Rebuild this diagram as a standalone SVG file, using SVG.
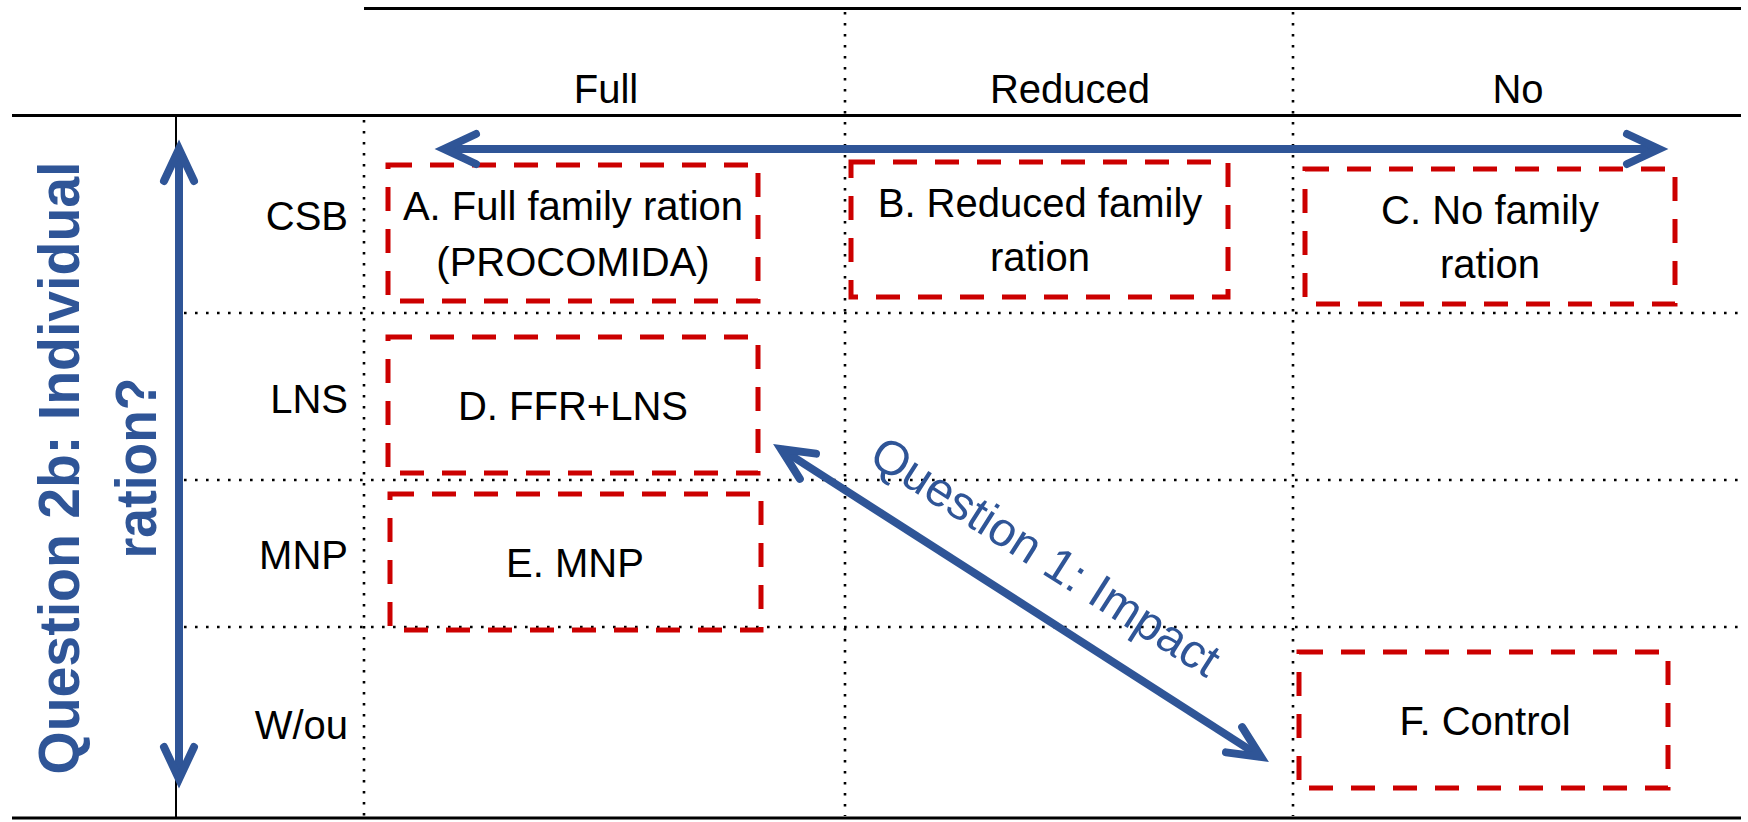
<svg xmlns="http://www.w3.org/2000/svg" width="1748" height="822" viewBox="0 0 1748 822">
<defs>
<style>
.lbl{font-family:"Liberation Sans",Arial,sans-serif;font-size:40px;fill:#000}
.mid{text-anchor:middle}
.end{text-anchor:end}
.box{fill:none;stroke:#CC0000;stroke-width:5;stroke-dasharray:24 18}
.rule{stroke:#000;stroke-width:3}
.dot{stroke:#000;stroke-width:2.6;stroke-dasharray:2.6 8.4}
.arrow{stroke:#2F5597;stroke-width:8;fill:none;marker-start:url(#ah);marker-end:url(#ah)}
.blue{font-family:"Liberation Sans",Arial,sans-serif;fill:#2F5597}
</style>
<marker id="ah" markerUnits="userSpaceOnUse" markerWidth="80" markerHeight="80" refX="0" refY="0" orient="auto-start-reverse" overflow="visible">
<path d="M-32,-15 L0,0 L-32,15" fill="none" stroke="#2F5597" stroke-width="8" stroke-linecap="round" stroke-linejoin="miter"/>
</marker>
</defs>
<rect width="1748" height="822" fill="#fff"/>

<g id="grid">
<line class="rule" x1="364" y1="8.5" x2="1741" y2="8.5"/>
<line class="rule" x1="12" y1="115.5" x2="1741" y2="115.5"/>
<line class="rule" x1="12" y1="818" x2="1741" y2="818"/>
<line x1="176" y1="115.5" x2="176" y2="818" stroke="#000" stroke-width="2"/>
<line class="dot" x1="364" y1="120" x2="364" y2="816"/>
<line class="dot" x1="845" y1="12" x2="845" y2="816"/>
<line class="dot" x1="1293" y1="12" x2="1293" y2="816"/>
<line class="dot" x1="184" y1="313" x2="1741" y2="313"/>
<line class="dot" x1="184" y1="480" x2="1741" y2="480"/>
<line class="dot" x1="184" y1="627" x2="1741" y2="627"/>
</g>

<g id="headers">
<text class="lbl mid" x="606" y="103">Full</text>
<text class="lbl mid" x="1070" y="103">Reduced</text>
<text class="lbl mid" x="1518" y="103">No</text>
</g>

<g id="rows">
<text class="lbl end" x="348" y="230">CSB</text>
<text class="lbl end" x="348" y="413">LNS</text>
<text class="lbl end" x="348" y="569">MNP</text>
<text class="lbl end" x="348" y="739">W/ou</text>
</g>

<g id="nodeA">
<rect class="box" x="388" y="165" width="370" height="136"/>
<text class="lbl mid" x="573" y="220">A. Full family ration</text>
<text class="lbl mid" x="573" y="276">(PROCOMIDA)</text>
</g>
<g id="nodeB">
<rect class="box" x="851" y="162" width="377" height="135"/>
<text class="lbl mid" x="1040" y="217">B. Reduced family</text>
<text class="lbl mid" x="1040" y="271">ration</text>
</g>
<g id="nodeC">
<rect class="box" x="1305" y="169" width="370" height="135"/>
<text class="lbl mid" x="1490" y="224">C. No family</text>
<text class="lbl mid" x="1490" y="278">ration</text>
</g>
<g id="nodeD">
<rect class="box" x="388" y="337" width="370" height="136"/>
<text class="lbl mid" x="573" y="420">D. FFR+LNS</text>
</g>
<g id="nodeE">
<rect class="box" x="390" y="494" width="371" height="136"/>
<text class="lbl mid" x="575" y="577">E. MNP</text>
</g>
<g id="nodeF">
<rect class="box" x="1299" y="652" width="369" height="136"/>
<text class="lbl mid" x="1485" y="735">F. Control</text>
</g>

<g id="connectors">
<line class="arrow" x1="444" y1="149" x2="1659" y2="149"/>
<line class="arrow" x1="179" y1="149" x2="179" y2="779"/>
<line class="arrow" x1="781" y1="449" x2="1261" y2="757"/>
</g>

<g id="labels">
<text class="blue" font-size="57" font-weight="bold" text-anchor="middle" textLength="613" lengthAdjust="spacingAndGlyphs" transform="translate(79,468) rotate(-90)">Question 2b: Individual</text>
<text class="blue" font-size="57" font-weight="bold" text-anchor="middle" textLength="181" lengthAdjust="spacingAndGlyphs" transform="translate(156,468) rotate(-90)">ration?</text>
<text class="blue" font-size="48" transform="translate(867,462) rotate(32.5)">Question 1: Impact</text>
</g>
</svg>
